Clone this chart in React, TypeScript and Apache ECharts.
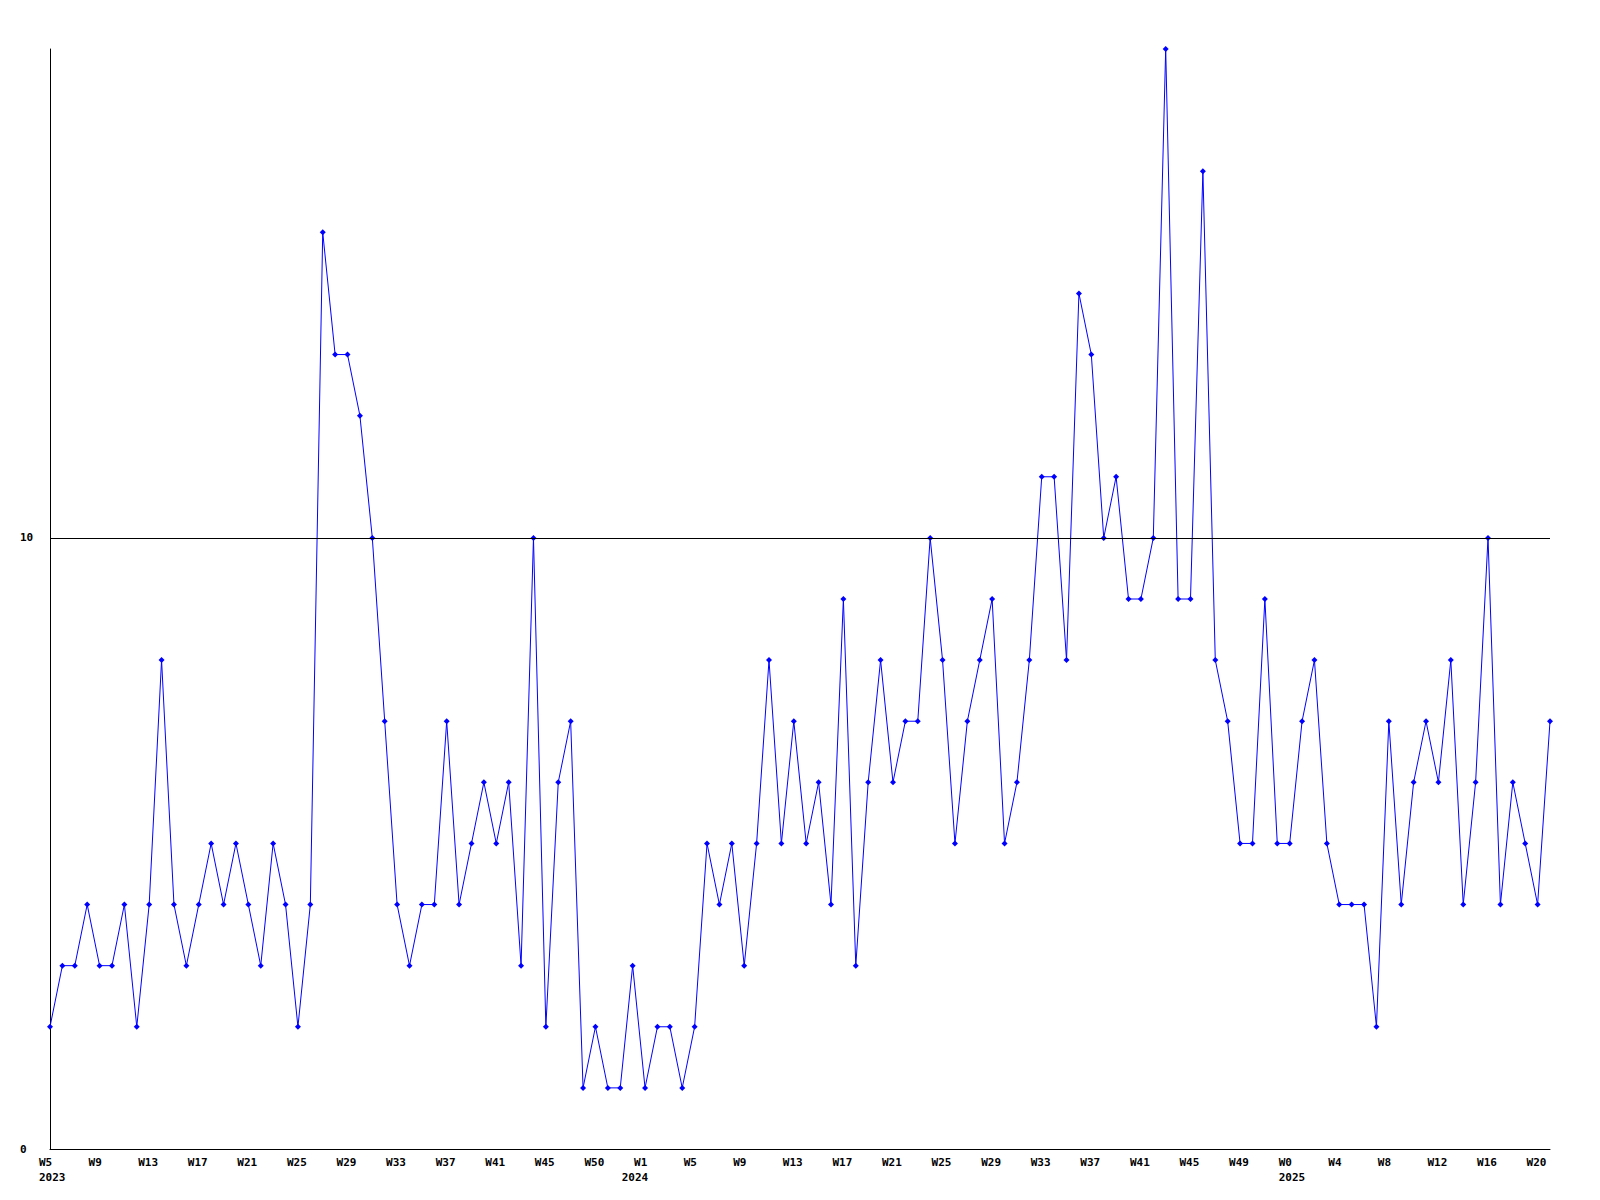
import React, { useEffect, useRef } from "react";
import * as echarts from "echarts";

const weekLabels: string[] = [
  "W5", "W9", "W13", "W17", "W21", "W25", "W29", "W33", "W37", "W41", "W45", "W50",
  "W1", "W5", "W9", "W13", "W17", "W21", "W25", "W29", "W33", "W37", "W41", "W45", "W49",
  "W0", "W4", "W8", "W12", "W16", "W20",
];

const yearLabels: string[] = ["2023", "2024", "2025"];
const yearStartIndex: number[] = [0, 47, 100];

const values: number[] = [
  2, 3, 3, 4, 3, 3, 4, 2, 4, 8,
  4, 3, 4, 5, 4, 5, 4, 3, 5, 4,
  2, 4, 15, 13, 13, 12, 10, 7, 4, 3,
  4, 4, 7, 4, 5, 6, 5, 6, 3, 10,
  2, 6, 7, 1, 2, 1, 1, 3, 1, 2,
  2, 1, 2, 5, 4, 5, 3, 5, 8, 5,
  7, 5, 6, 4, 9, 3, 6, 8, 6, 7,
  7, 10, 8, 5, 7, 8, 9, 5, 6, 8,
  11, 11, 8, 14, 13, 10, 11, 9, 9, 10,
  18, 9, 9, 16, 8, 7, 5, 5, 9, 5,
  5, 7, 8, 5, 4, 4, 4, 2, 7, 4,
  6, 7, 6, 8, 4, 6, 10, 4, 6, 5,
  4, 7,
];

const categories: string[] = values.map((_, i) => {
  const week = i % 4 === 0 ? weekLabels[i / 4] ?? "" : "";
  const yi = yearStartIndex.indexOf(i);
  const year = yi >= 0 ? yearLabels[yi] : "";
  if (!week && !year) return "";
  return year ? `${week}\n${year}` : week;
});

const yTicks: number[] = [0, 10];

export default function App() {
  const ref = useRef<HTMLDivElement>(null);
  useEffect(() => {
    document.body.style.margin = "0";
    if (!ref.current) return;
    const chart = echarts.init(ref.current, undefined, { renderer: "svg" });
    const font = "DejaVu Sans Mono";
    chart.setOption({
      animation: false,
      backgroundColor: "#ffffff",
      grid: { left: 50, right: 50, top: 49, bottom: 51, containLabel: false },
      xAxis: {
        type: "category",
        data: categories,
        boundaryGap: false,
        axisLine: { show: true, lineStyle: { color: "#000000", width: 1 } },
        axisTick: { show: false },
        splitLine: { show: false },
        axisLabel: {
          interval: (i: number) => categories[i] !== "",
          hideOverlap: false,
          align: "left",
          padding: [0, 0, 0, -11],
          margin: 6,
          color: "#000000",
          fontFamily: font,
          fontWeight: "bold",
          fontSize: 11,
          lineHeight: 15,
        },
      },
      yAxis: {
        type: "value",
        min: 0,
        max: 18,
        interval: 10,
        axisLine: { show: true, lineStyle: { color: "#000000", width: 1 } },
        axisTick: { show: false },
        splitLine: { show: false },
        axisLabel: {
          showMaxLabel: false,
          align: "left",
          margin: 30,
          color: "#000000",
          fontFamily: font,
          fontWeight: "bold",
          fontSize: 11,
          formatter: (v: number) => (yTicks.includes(v) ? String(v) : ""),
        },
      },
      series: [
        {
          type: "line",
          data: values,
          symbol: "diamond",
          symbolSize: 6,
          showSymbol: true,
          showAllSymbol: true,
          itemStyle: { color: "#0000ff" },
          lineStyle: { color: "#0000ff", width: 1 },
          markLine: {
            silent: true,
            symbol: ["none", "none"],
            label: { show: false },
            lineStyle: { color: "#000000", width: 1, type: "solid" },
            data: [{ yAxis: yTicks[1] }],
          },
          z: 3,
        },
      ],
    });
    return () => chart.dispose();
  }, []);
  return <div ref={ref} style={{ width: 1600, height: 1200 }} />;
}
